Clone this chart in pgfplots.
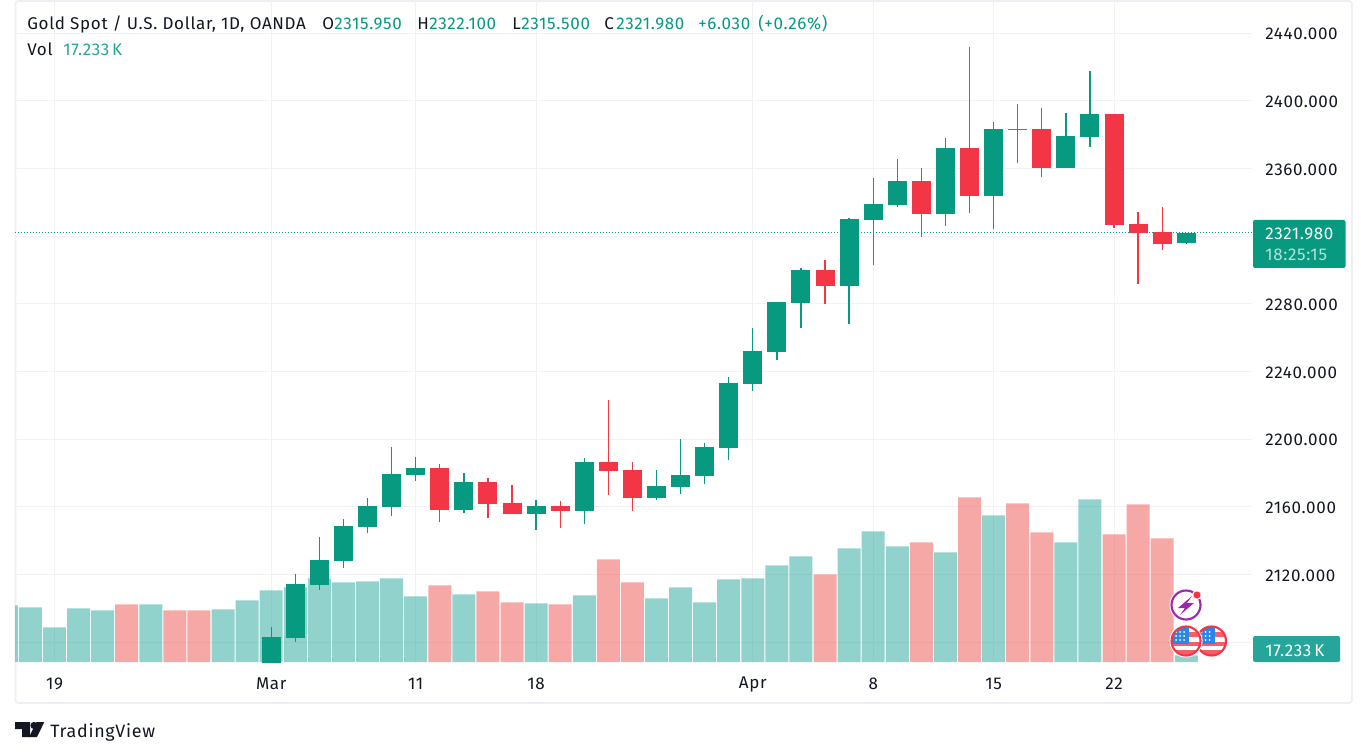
\documentclass[border=0pt]{standalone}
\usepackage{fontspec}
\usepackage{pgfplots}
\usepackage{pgfplotstable}
\pgfplotsset{compat=1.18}
\setmainfont[LetterSpace=4]{Fira Sans}

\definecolor{upcol}{HTML}{089981}
\definecolor{downcol}{HTML}{F23645}
\definecolor{volup}{HTML}{26A69A}
\definecolor{voldown}{HTML}{EF5350}
\definecolor{gridcol}{HTML}{F2F2F4}
\definecolor{framecol}{HTML}{EEEFF4}
\definecolor{inkcol}{HTML}{131722}
\definecolor{flagred}{HTML}{F23645}
\definecolor{flagblue}{HTML}{2A86E8}
\definecolor{boltcol}{HTML}{9C27B0}

% x is the bar number counted from 19 Feb, price in USD, volume in K
\pgfplotstableread{
x o h l c
9 2054.0 2089.1 2044.0 2083.1
10 2082.5 2120.4 2080.2 2114.5
11 2113.9 2142.2 2110.9 2128.6
12 2128.0 2152.9 2123.9 2148.7
13 2148.2 2165.3 2144.6 2160.6
14 2160.0 2195.4 2154.7 2179.5
15 2178.9 2189.5 2175.3 2183.0
17 2158.2 2180.1 2156.4 2174.8
20 2155.8 2164.1 2146.4 2160.6
22 2157.6 2188.9 2149.9 2186.6
25 2165.3 2181.8 2164.1 2172.4
26 2171.8 2200.2 2167.7 2178.9
27 2178.3 2197.8 2173.6 2195.4
28 2194.9 2236.8 2187.8 2233.3
29 2232.7 2265.8 2228.5 2252.2
30 2251.6 2281.2 2246.9 2281.2
31 2280.6 2301.3 2265.8 2300.1
33 2290.6 2330.8 2268.2 2330.2
34 2329.6 2354.5 2303.0 2339.1
35 2338.5 2365.7 2337.3 2352.7
37 2333.2 2378.1 2326.1 2372.2
39 2343.8 2387.6 2324.3 2383.4
42 2360.4 2392.9 2360.4 2379.3
43 2378.7 2417.7 2372.8 2392.3
47 2315.95 2322.1 2315.5 2321.98
}\upcandles

\pgfplotstableread{
x o h l c
16 2183.0 2185.4 2151.1 2158.2
18 2174.8 2177.1 2153.5 2161.8
19 2162.3 2173.0 2155.8 2155.8
21 2160.6 2163.5 2147.6 2157.6
23 2186.6 2223.2 2167.1 2181.3
24 2181.8 2186.6 2157.6 2165.3
32 2300.1 2306.0 2280.0 2290.6
36 2352.7 2360.4 2319.6 2333.2
38 2372.2 2431.9 2333.8 2343.8
40 2383.4 2398.2 2363.3 2382.8
41 2383.4 2395.8 2355.1 2360.4
44 2392.3 2392.3 2324.9 2326.7
45 2327.3 2334.4 2291.8 2321.9
46 2322.5 2337.3 2311.9 2315.4
}\downcandles

\pgfplotstableread{
x v
-2 145.7
-1 140.6
0 89.2
1 138.0
2 132.9
4 148.3
7 135.4
8 158.6
9 184.3
10 192.0
11 215.1
12 204.8
13 207.4
14 215.1
15 168.8
17 174.0
20 150.9
22 171.4
25 163.7
26 192.0
27 153.4
28 212.5
29 215.1
30 248.5
31 271.6
33 292.2
34 335.9
35 297.3
37 281.9
39 377.0
42 307.6
43 418.1
47 17.233
}\upvol

\pgfplotstableread{
x v
3 148.3
5 132.9
6 132.9
16 197.1
18 181.7
19 153.4
21 148.3
23 263.9
24 204.8
32 225.4
36 307.6
38 423.3
40 407.9
41 333.3
44 328.2
45 405.3
46 317.9
}\downvol

\pgfplotsset{
  pane/.style={
    at={(11.25pt,-496.5pt)}, anchor=south west,
    scale only axis, width=927.75pt, height=495.75pt,
    xmin=-1.64, xmax=49.73,
    axis line style={draw=none},
    major tick length=0pt,
    tick style={draw=none},
    clip=true,
  },
  bare/.style={pane, xtick=\empty, ytick=\empty},
  vbar/.style={ybar, bar width=17.25pt, bar shift=0pt, draw=none, fill=#1, fill opacity=.5, forget plot},
  segs/.style 2 args={draw=none, no markers, forget plot,
    error bars/.cd, y dir=plus, y explicit, error mark=none,
    error bar style={draw=#1, line width=#2}},
}

\newcommand{\flagicon}[2]{%
  \fill[white] (#1,#2) circle (16.5);
  \begin{scope}
    \clip (#1,#2) circle (14);
    \fill[white] (#1-15,#2-15) rectangle (#1+15,#2+15);
    \fill[flagred!80!white] (#1-15,#2-9) rectangle (#1+15,#2-4);
    \fill[flagred!80!white] (#1-15,#2+1) rectangle (#1+15,#2+5);
    \fill[flagred!80!white] (#1-15,#2+9) rectangle (#1+15,#2+15);
    \fill[flagblue] (#1-15,#2-15) rectangle (#1+3,#2+3);
    \foreach \a in {-10,-6,-2}{\foreach \b in {-9,-5,-1}{\fill[white] (#1+\a,#2+\b) circle (1);}}
  \end{scope}
  \draw[flagred, line width=1.6pt] (#1,#2) circle (14.5);
}

\begin{document}
\begin{tikzpicture}
\begin{scope}[x=0.75pt,y=-0.75pt]
  \path[use as bounding box] (0,0) rectangle (1361,756);
  \fill[white] (0,0) rectangle (1361,756);
  \draw[framecol, line width=1.2pt, rounded corners=2pt] (15.5,1) rectangle (1352,703);
\end{scope}

% grid and price scale, 2320 keeps its grid line but its label sits under the price tag
\begin{axis}[pane,
    ymin=2068.36, ymax=2459.09,
    ytick={2080,2120,2160,2200,2240,2280,2360,2400,2440},
    extra y ticks={2320},
    extra y tick labels={},
    extra y tick style={grid=major},
    xtick={0,9,15,20,29,34,39,44},
    xticklabels={19,Mar,11,18,Apr,8,15,22},
    grid=major,
    grid style={gridcol, line width=.75pt},
    ytick pos=right,
    yticklabel pos=right,
    /pgf/number format/assume math mode=true,
    /pgf/number format/fixed,
    /pgf/number format/fixed zerofill,
    /pgf/number format/precision=3,
    /pgf/number format/set thousands separator={},
    tick label style={font=\fontsize{12.75}{14}\selectfont, text=inkcol},
    yticklabel style={inner sep=0pt, anchor=west, xshift=9.75pt, yshift=-.75pt},
    xticklabel style={inner sep=0pt, anchor=center, yshift=-16.5pt},
]
\end{axis}

% volume pane
\begin{axis}[bare, ymin=0, ymax=1698.8]
  \addplot[vbar=volup] table[x=x,y=v] {\upvol};
  \addplot[vbar=voldown] table[x=x,y=v] {\downvol};
\end{axis}

% candles
\begin{axis}[bare, ymin=2068.36, ymax=2459.09]
  \addplot[upcol, dash pattern=on .75pt off 1.5pt, line width=.75pt, forget plot] coordinates {(-1.64,2321.98) (49.73,2321.98)};
  \addplot[segs={upcol}{1pt}] table[x=x,y=l,y error expr=\thisrow{h}-\thisrow{l}] {\upcandles};
  \addplot[segs={upcol}{14.25pt}] table[x=x,y=o,y error expr=\thisrow{c}-\thisrow{o}] {\upcandles};
  \addplot[segs={downcol}{1pt}] table[x=x,y=l,y error expr=\thisrow{h}-\thisrow{l}] {\downcandles};
  \addplot[segs={downcol}{14.25pt}] table[x=x,y=c,y error expr=\thisrow{o}-\thisrow{c}] {\downcandles};
\end{axis}

\begin{scope}[x=0.75pt,y=-0.75pt]
  % header
  \tikzset{lab/.style={anchor=base west, inner sep=0pt, font=\fontsize{12.75}{14}\selectfont}}
  \node[lab, text=inkcol] at (27,29.5) {Gold Spot / U.S. Dollar, 1D, OANDA};
  \node[lab, text=inkcol] at (322,29.5) {O};
  \node[lab, text=upcol] at (334,29.5) {2315.950};
  \node[lab, text=inkcol] at (417,29.5) {H};
  \node[lab, text=upcol] at (429,29.5) {2322.100};
  \node[lab, text=inkcol] at (512,29.5) {L};
  \node[lab, text=upcol] at (521,29.5) {2315.500};
  \node[lab, text=inkcol] at (604,29.5) {C};
  \node[lab, text=upcol] at (616,29.5) {2321.980};
  \node[lab, text=upcol] at (698,29.5) {+6.030};
  \node[lab, text=upcol] at (758,29.5) {(+0.26\%)};
  \node[lab, text=inkcol] at (27,55.5) {Vol};
  \node[lab, text=volup] at (63,55.5) {17.233\,K};

  % last price and volume tags
  \fill[upcol, rounded corners=1.5pt] (1253,220) rectangle (1345.5,268);
  \node[lab, text=white] at (1265,240) {2321.980};
  \node[lab, text=white, opacity=.7] at (1265,260.7) {18:25:15};
  \fill[volup, rounded corners=1.5pt] (1253,636) rectangle (1340,662);
  \node[lab, text=white] at (1265,656) {17.233\,K};

  % event icons
  \fill[white] (1186,605) circle (16.5);
  \draw[boltcol, line width=1.6pt] (1186,605) circle (14.5);
  \fill[boltcol] (1192,596) -- (1178,608) -- (1185,608) -- (1180,615) -- (1194,603) -- (1187,603) -- cycle;
  \fill[white] (1197,595) circle (5);
  \fill[flagred] (1197,595) circle (3.6);
  \flagicon{1211.5}{641}
  \flagicon{1186}{641}

  % logo
  \fill[inkcol] (15,722) -- (30,722) -- (30,737) -- (22,737) -- (22,729) -- (15,729) -- cycle;
  \fill[inkcol] (34,725.5) circle (3.6);
  \fill[inkcol] (36.5,722) -- (44.3,722) -- (37,737) -- (29,737) -- cycle;
  \node[anchor=base west, inner sep=0pt, text=inkcol, font=\fontsize{13.4}{16}\selectfont] at (50,737.5) {TradingView};
\end{scope}
\end{tikzpicture}
\end{document}
